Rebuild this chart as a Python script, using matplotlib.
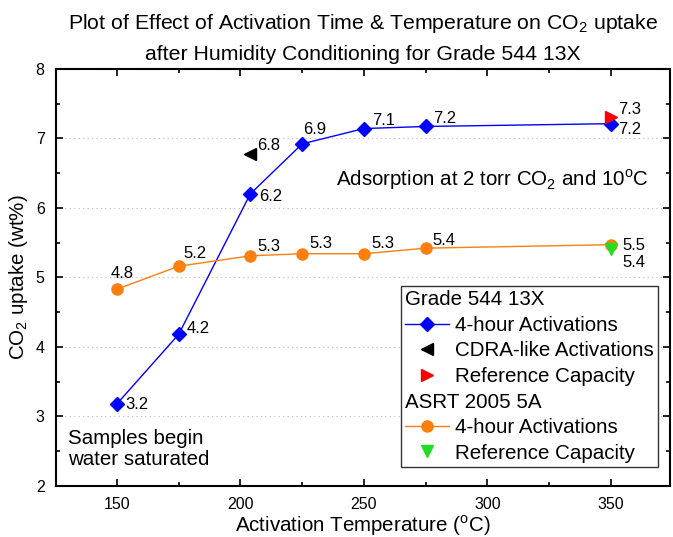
import numpy as np
import matplotlib
matplotlib.use('Agg')
import matplotlib.pyplot as plt
from matplotlib.lines import Line2D
from matplotlib.ticker import MultipleLocator

plt.rcParams['font.family'] = ['Liberation Sans', 'DejaVu Sans']
plt.rcParams['mathtext.fontset'] = 'custom'
plt.rcParams['mathtext.rm'] = 'Liberation Sans'

# Grade 544 13X, 4-hour activations
temp_13x = [150, 175, 204, 225, 250, 275, 350]
uptake_13x = [3.18, 4.18, 6.20, 6.92, 7.14, 7.17, 7.21]
# CDRA-like activation
temp_cdra = [204]
uptake_cdra = [6.78]
# Reference capacity 13X
temp_ref13x = [350]
uptake_ref13x = [7.30]

# ASRT 2005 5A, 4-hour activations
temp_5a = [150, 175, 204, 225, 250, 275, 350]
uptake_5a = [4.83, 5.16, 5.31, 5.34, 5.34, 5.42, 5.47]
# Reference capacity 5A
temp_ref5a = [350]
uptake_ref5a = [5.41]

blue = '#0000ff'
orange = '#ff7f0e'
red = '#ff0000'
green = '#22dd22'

fig = plt.figure(figsize=(6.73, 5.37), dpi=100)
ax = fig.add_axes([0.083, 0.095, 0.913, 0.777])

ax.plot(temp_13x, uptake_13x, color=blue, lw=1, marker='D', ms=7, zorder=3)
ax.plot(temp_cdra, uptake_cdra, ls='none', color='black', marker='<', ms=8, zorder=3)
ax.plot(temp_ref13x, uptake_ref13x, ls='none', color=red, marker='>', ms=8, zorder=3)
ax.plot(temp_5a, uptake_5a, color=orange, lw=1, marker='o', ms=8, zorder=3)
ax.plot(temp_ref5a, uptake_ref5a, ls='none', color=green, marker='v', ms=8, zorder=3)


def label(xs, ys, offsets):
    for x, y, off in zip(xs, ys, offsets):
        ax.annotate(f'{y:.1f}', (x, y), xytext=off, textcoords='offset pixels',
                    ha='left', va='center', fontsize=12)


label(temp_13x, uptake_13x,
      [(8, -1), (8, 6), (9, -3), (1, 14), (8, 8), (7, 8), (7, -6)])
label(temp_cdra, uptake_cdra, [(7, 8)])
label(temp_ref13x, uptake_ref13x, [(7, 8)])
label(temp_5a, uptake_5a,
      [(-6, 16), (5, 13), (7, 9), (7, 10), (7, 10), (7, 8), (11, -1)])
label(temp_ref5a, uptake_ref5a, [(11, -14)])

ax.text(238.5, 6.40, 'Adsorption at 2 torr CO$_2$ and 10$^{\\rm o}$C',
        fontsize=14.8, va='center', ha='left')
ax.text(130.2, 2.53, 'Samples begin\nwater saturated', fontsize=14.8,
        va='center', ha='left', linespacing=1.1)

ax.set_xlim(125.3, 374)
ax.set_ylim(2, 8)
ax.xaxis.set_major_locator(MultipleLocator(50))
ax.xaxis.set_minor_locator(MultipleLocator(25))
ax.yaxis.set_major_locator(MultipleLocator(1))
ax.yaxis.set_minor_locator(MultipleLocator(0.5))
ax.tick_params(which='both', direction='in', top=True, right=True,
               labelsize=11.5, width=1.2)
ax.tick_params(which='major', length=5, pad=8)
ax.tick_params(which='minor', length=3)
for s in ax.spines.values():
    s.set_linewidth(1.5)
ax.grid(axis='y', ls=(0, (1, 3)), color='#bbbbbb', lw=0.8)
ax.set_axisbelow(True)

ax.set_xlabel('Activation Temperature ($^{\\rm o}$C)', fontsize=14.8, labelpad=1)
ax.set_ylabel('CO$_2$ uptake (wt%)', fontsize=14.8, labelpad=4)
ax.set_title('Plot of Effect of Activation Time & Temperature on CO$_2$ uptake\n'
             'after Humidity Conditioning for Grade 544 13X',
             fontsize=15.3, linespacing=1.67, pad=6)

blank = Line2D([], [], ls='none')
handles = [
    blank,
    Line2D([], [], color=blue, lw=1, marker='D', ms=7),
    Line2D([], [], ls='none', color='black', marker='<', ms=8),
    Line2D([], [], ls='none', color=red, marker='>', ms=8),
    blank,
    Line2D([], [], color=orange, lw=1, marker='o', ms=8),
    Line2D([], [], ls='none', color=green, marker='v', ms=8),
]
names = ['Grade 544 13X', '4-hour Activations', 'CDRA-like Activations',
         'Reference Capacity', 'ASRT 2005 5A', '4-hour Activations',
         'Reference Capacity']
leg_fs = 14.8
hlen, hpad = 2.15, 0.3
leg = ax.legend(handles, names, loc='lower right', bbox_to_anchor=(0.980, 0.046),
                borderaxespad=0, fontsize=leg_fs, frameon=True, fancybox=False,
                edgecolor='#333333', framealpha=1, handlelength=hlen,
                handletextpad=hpad, labelspacing=0.32, borderpad=0.2,
                numpoints=1)
leg.get_frame().set_linewidth(1.0)
# pull the group headings back over the empty handle space
fs_px = leg_fs * fig.dpi / 72
for i in (0, 4):
    leg.get_texts()[i].set_x(-(hlen + hpad) * fs_px)

fig.savefig('out.png', dpi=100)
